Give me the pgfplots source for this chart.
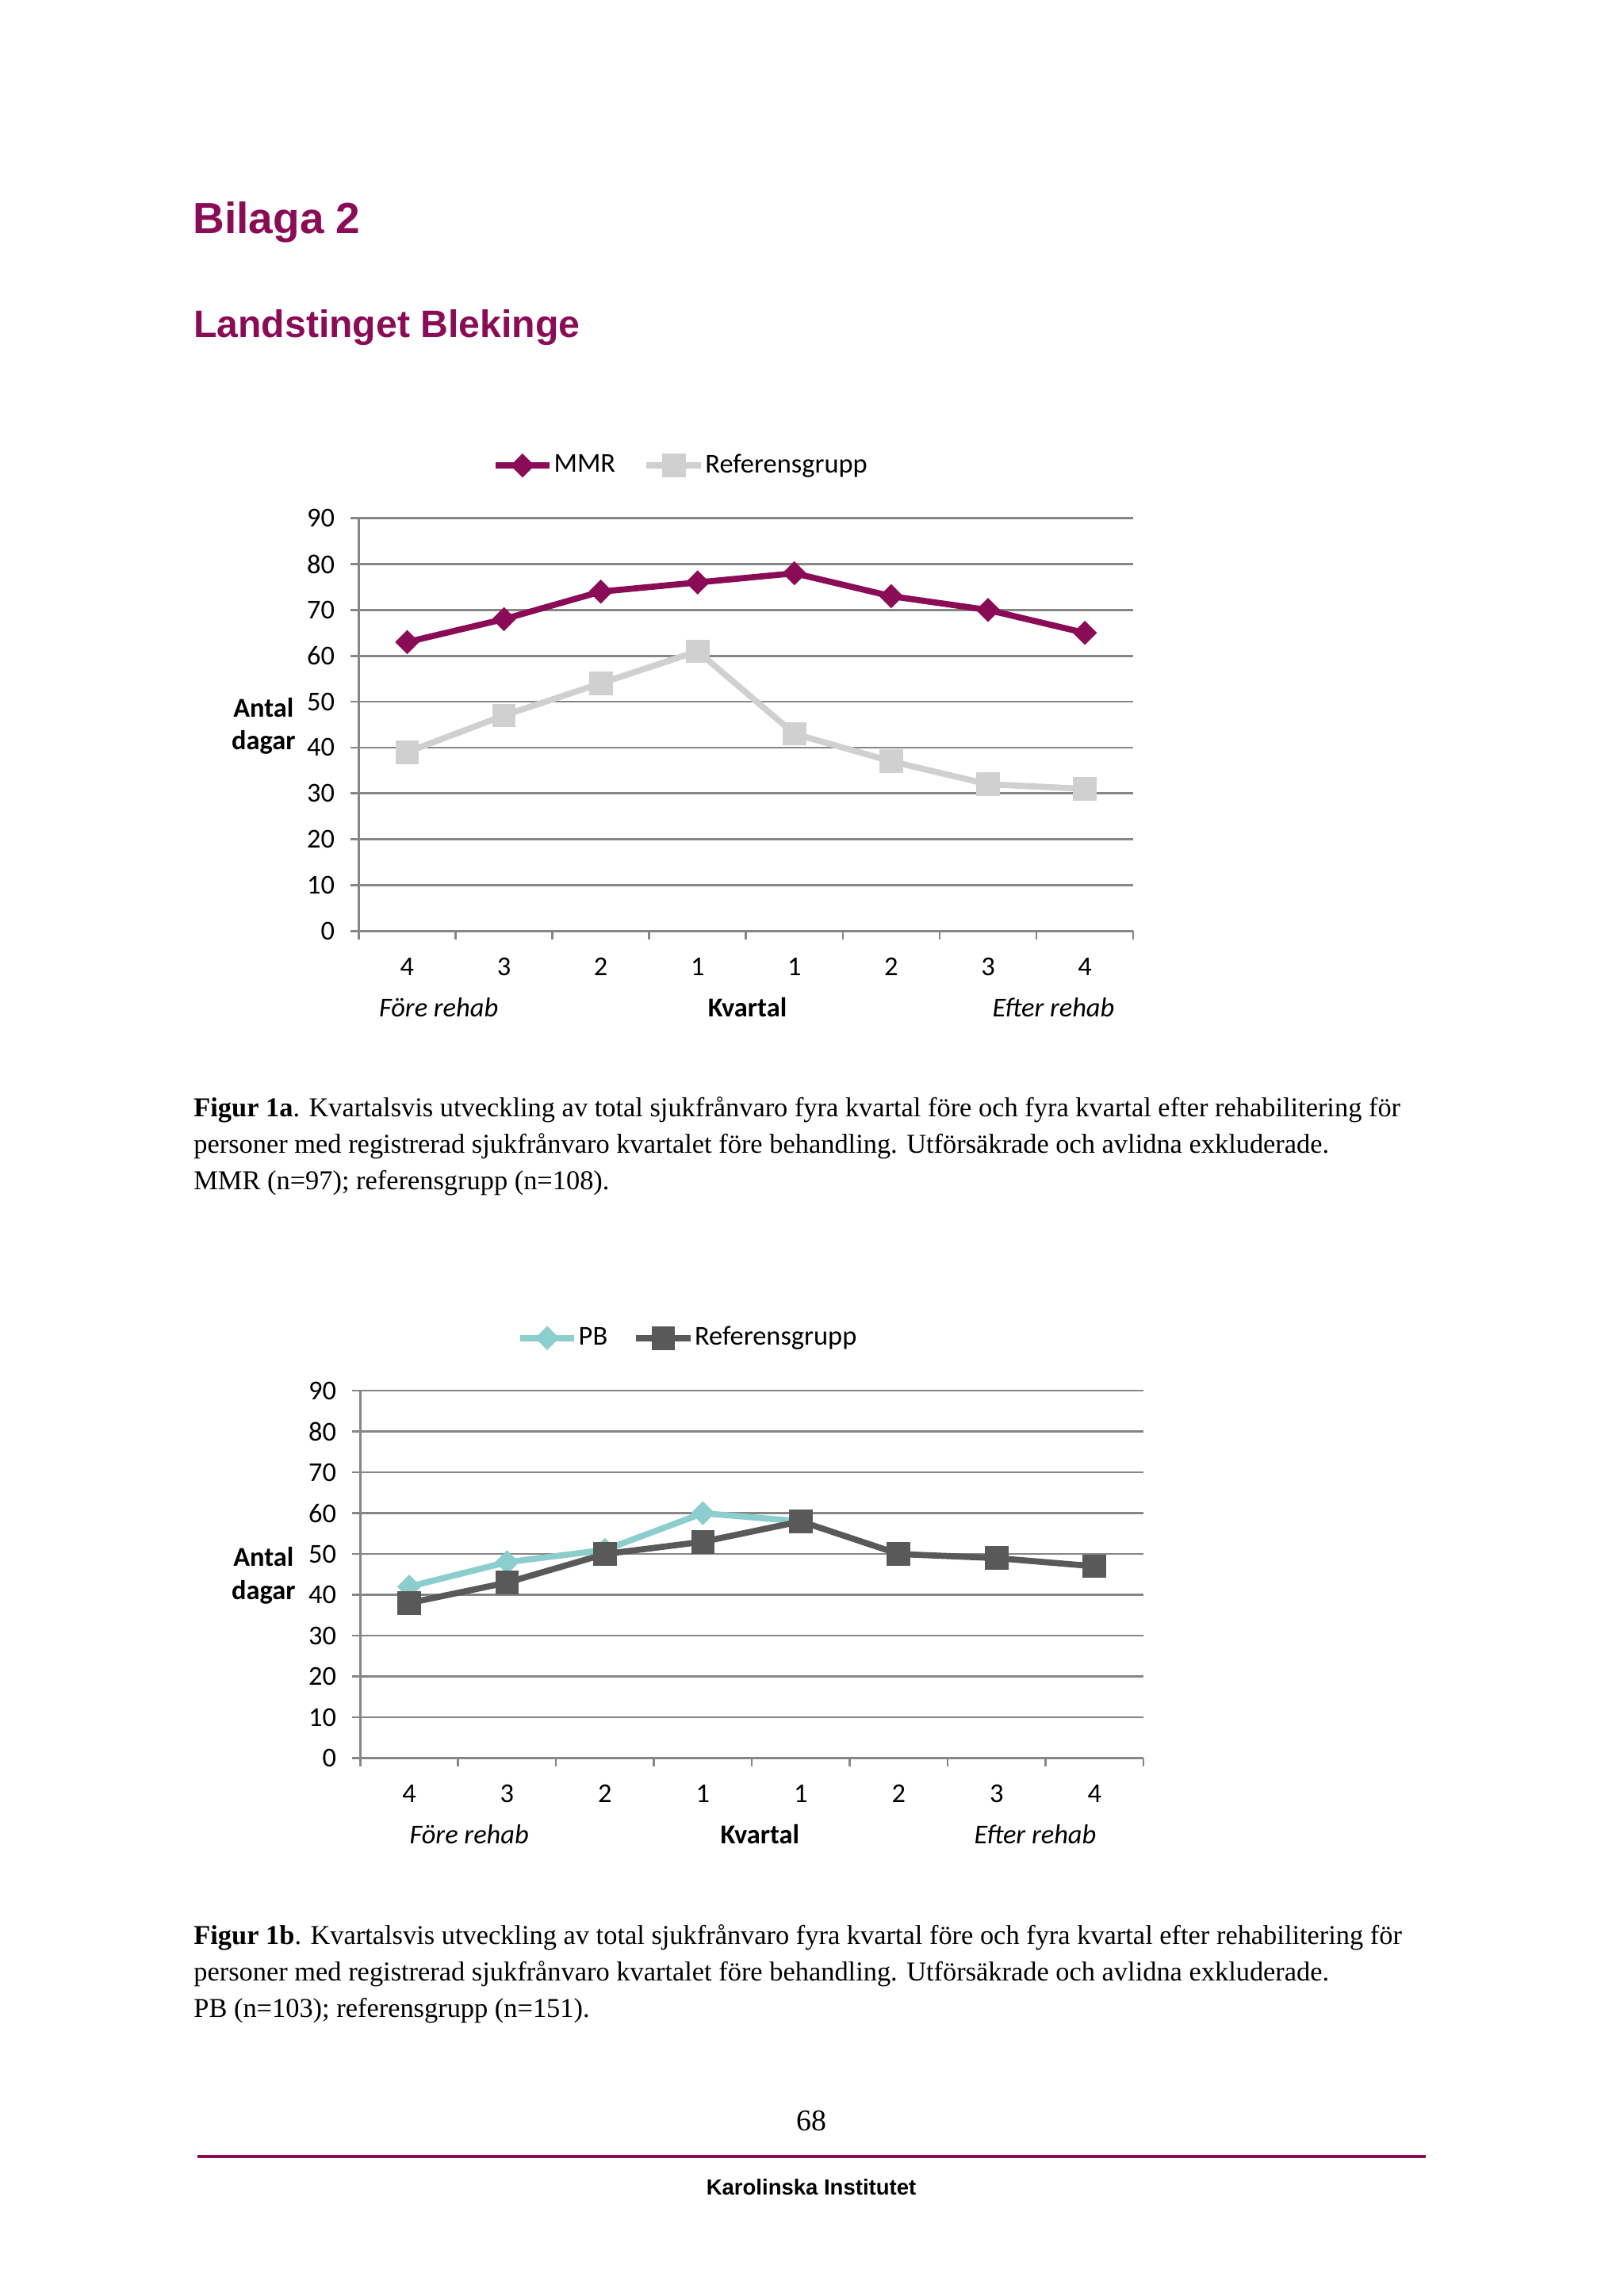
\documentclass[border=0pt]{standalone}
\usepackage{fontspec}
\setmainfont{Carlito}
\newfontfamily\arialf{Liberation Sans}
\newfontfamily\timesf{Liberation Serif}
\usepackage{pgfplots}
\pgfplotsset{compat=1.18}
\definecolor{kipurple}{RGB}{139,12,86}
\definecolor{refgray}{RGB}{208,208,208}
\definecolor{pbteal}{RGB}{140,205,205}
\definecolor{darkref}{RGB}{89,89,89}
\definecolor{gridgray}{RGB}{134,134,134}

\pgfplotstableread{
x mmr ref
0 63 39
1 68 47
2 74 54
3 76 61
4 78 43
5 73 37
6 70 32
7 65 31
}\tabA
\pgfplotstableread{
x ref
0 38
1 43
2 50
3 53
4 58
5 50
6 49
7 47
}\tabBref
\pgfplotstableread{
x pb
0 42
1 48
2 51
3 60
4 58
}\tabBpb

\pgfplotsset{kistyle/.style={
  scale only axis,
  xmin=-0.5, xmax=7.5, ymin=0, ymax=90,
  ytick={0,10,...,90},
  xtick={-0.5,0.5,...,7.5}, xticklabels={},
  extra x ticks={0,1,...,7},
  extra x tick labels={4,3,2,1,1,2,3,4},
  extra x tick style={major tick length=0pt},
  axis lines*=left,
  tick align=outside,
  major tick length=3pt,
  ymajorgrids=true,
  major grid style={gridgray, line width=0.75pt},
  axis line style={gridgray, line width=0.75pt},
  major tick style={gridgray, line width=0.75pt},
  /pgf/number format/assume math mode=true,
  tick label style={font=\fontsize{10}{12}\selectfont, text=black},
  xticklabel style={anchor=base, yshift=-16.4pt},
  yticklabel style={anchor=east, inner xsep=0pt, xshift=-5.6pt},
  clip=false,
  legend columns=2,
  legend cell align=left,
  legend image code/.code={\draw[mark repeat=2,mark phase=2,##1] plot coordinates {(0pt,0pt) (10pt,0pt) (20pt,0pt)};},
  legend style={draw=none, fill=none, inner sep=0pt, outer sep=0pt,
    font=\fontsize{10}{12}\selectfont,
    nodes={inner xsep=0.4pt, inner ysep=1pt}},
}}

\begin{document}
\begin{tikzpicture}
\path[use as bounding box, fill=white] (0,0) rectangle (595.28pt,-841.89pt);

% Headings
\node[anchor=base west, inner sep=0, text=kipurple, font=\arialf\bfseries\fontsize{16}{19}\selectfont] at (70.6pt,-85.5pt) {Bilaga 2};
\node[anchor=base west, inner sep=0, text=kipurple, font=\arialf\bfseries\fontsize{14}{17}\selectfont] at (70.8pt,-123.6pt) {Landstinget Blekinge};

% Chart 1
\begin{axis}[kistyle, width=283.95pt, height=151.37pt, at={(131.51pt,-341.39pt)}, anchor=south west,
  legend style={at={(0.1723,1.1277)}, anchor=west,
    /tikz/every even column/.append style={column sep=9.9pt}}]
\addplot[kipurple, line width=2.25pt, mark=square*, mark size=2pt, mark options={rotate=45, solid, fill=kipurple}] table[x=x, y=mmr] {\tabA};
\addlegendentry{MMR}
\addplot[refgray, line width=2.25pt, mark=square*, mark size=3.2pt, mark options={solid, fill=refgray}] table[x=x, y=ref] {\tabA};
\addlegendentry{Referensgrupp}
\end{axis}

\node[anchor=base, inner sep=0, font=\bfseries] at (96.6pt,-263.0pt) {Antal};
\node[anchor=base, inner sep=0, font=\bfseries] at (96.6pt,-274.8pt) {dagar};
\node[anchor=base, inner sep=0, font=\itshape] at (160.8pt,-372.8pt) {Före rehab};
\node[anchor=base, inner sep=0, font=\bfseries] at (274.0pt,-372.8pt) {Kvartal};
\node[anchor=base, inner sep=0, font=\itshape] at (386.2pt,-372.8pt) {Efter rehab};

% Caption 1
\begin{scope}[every node/.style={anchor=base west, inner sep=0, font=\timesf\fontsize{10}{13.2}\selectfont}]
\node at (70.85pt,-409.4pt) {\textbf{Figur 1a}. Kvartalsvis utveckling av total sjukfrånvaro fyra kvartal före och fyra kvartal efter rehabilitering för};
\node at (70.85pt,-422.8pt) {personer med registrerad sjukfrånvaro kvartalet före behandling. Utförsäkrade och avlidna exkluderade.};
\node at (70.85pt,-436.1pt) {MMR (n=97); referensgrupp (n=108).};
\end{scope}

% Chart 2
\begin{axis}[kistyle, width=287.17pt, height=134.73pt, at={(132.05pt,-644.66pt)}, anchor=south west,
  legend style={at={(0.2000,1.1434)}, anchor=west,
    /tikz/every even column/.append style={column sep=8.9pt}}]
\addplot[pbteal, line width=2.25pt, mark=square*, mark size=2pt, mark options={rotate=45, solid, fill=pbteal}] table[x=x, y=pb] {\tabBpb};
\addlegendentry{PB}
\addplot[darkref, line width=2.25pt, mark=square*, mark size=3.2pt, mark options={solid, fill=darkref}] table[x=x, y=ref] {\tabBref};
\addlegendentry{Referensgrupp}
\end{axis}

\node[anchor=base, inner sep=0, font=\bfseries] at (96.6pt,-574.3pt) {Antal};
\node[anchor=base, inner sep=0, font=\bfseries] at (96.6pt,-586.4pt) {dagar};
\node[anchor=base, inner sep=0, font=\itshape] at (172.0pt,-676.1pt) {Före rehab};
\node[anchor=base, inner sep=0, font=\bfseries] at (278.6pt,-676.1pt) {Kvartal};
\node[anchor=base, inner sep=0, font=\itshape] at (379.5pt,-676.1pt) {Efter rehab};

% Caption 2
\begin{scope}[every node/.style={anchor=base west, inner sep=0, font=\timesf\fontsize{10}{13.2}\selectfont}]
\node at (70.85pt,-712.9pt) {\textbf{Figur 1b}. Kvartalsvis utveckling av total sjukfrånvaro fyra kvartal före och fyra kvartal efter rehabilitering för};
\node at (70.85pt,-726.3pt) {personer med registrerad sjukfrånvaro kvartalet före behandling. Utförsäkrade och avlidna exkluderade.};
\node at (70.85pt,-739.7pt) {PB (n=103); referensgrupp (n=151).};
\end{scope}

% Footer
\node[anchor=base, inner sep=0, font=\timesf\fontsize{11}{13}\selectfont] at (297.4pt,-781.2pt) {68};
\draw[kipurple, line width=1.2pt] (72.5pt,-790.7pt) -- (522.8pt,-790.7pt);
\node[anchor=base, inner sep=0, font=\arialf\bfseries\fontsize{8}{10}\selectfont] at (297.4pt,-804.8pt) {Karolinska Institutet};
\end{tikzpicture}
\end{document}
